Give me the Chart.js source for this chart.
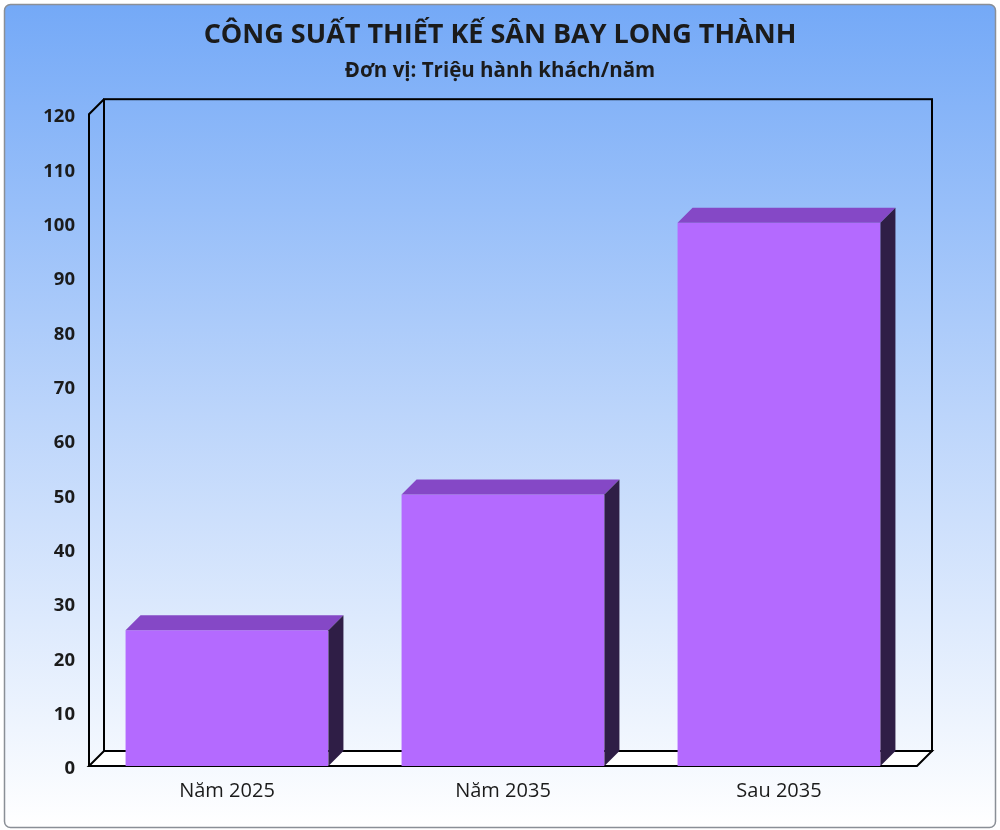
<!DOCTYPE html>
<html>
<head>
<meta charset="utf-8">
<script src="https://cdn.jsdelivr.net/npm/chart.js@4/dist/chart.umd.min.js"></script>
<style>
  html, body { margin: 0; padding: 0; background: #fff; }
  #wrap { width: 1000px; height: 830px; }
</style>
</head>
<body>
<div id="wrap"><canvas id="barChart"></canvas></div>
<script>
var categories = ["Năm 2025", "Năm 2035", "Sau 2035"];
var capacity = [25, 50, 100];
var yTicks = [0, 10, 20, 30, 40, 50, 60, 70, 80, 90, 100, 110, 120];

var DEPTH = 15;

// background, 3d frame and bar faces
var box3d = {
  id: 'box3d',
  beforeDraw: function(chart) {
    var c = chart.ctx;
    var w = chart.width, h = chart.height;
    c.save();
    c.fillStyle = '#fff';
    c.fillRect(0, 0, w, h);
    var g = c.createLinearGradient(0, 4, 0, h - 2);
    g.addColorStop(0, '#74a9f7');
    g.addColorStop(0.5, '#bcd5fb');
    g.addColorStop(1, '#ffffff');
    c.beginPath();
    c.roundRect(4.5, 4.5, w - 9, h - 7, 6);
    c.fillStyle = g;
    c.fill();
    c.lineWidth = 1.5;
    c.strokeStyle = '#8a8f96';
    c.stroke();
    c.restore();
  },
  beforeDatasetsDraw: function(chart) {
    var c = chart.ctx;
    var a = chart.chartArea;
    var d = DEPTH;
    c.save();
    c.lineWidth = 2;
    c.strokeStyle = '#000';
    c.lineJoin = 'miter';
    // floor
    c.beginPath();
    c.moveTo(a.left, a.bottom);
    c.lineTo(a.right, a.bottom);
    c.lineTo(a.right + d, a.bottom - d);
    c.lineTo(a.left + d, a.bottom - d);
    c.closePath();
    c.fillStyle = '#fff';
    c.fill();
    c.stroke();
    // back wall
    c.strokeRect(a.left + d, a.top - d, a.right - a.left, a.bottom - a.top);
    // left wall
    c.beginPath();
    c.moveTo(a.left + d, a.top - d);
    c.lineTo(a.left, a.top);
    c.lineTo(a.left, a.bottom);
    c.stroke();
    c.restore();
  },
  afterDatasetsDraw: function(chart) {
    var c = chart.ctx;
    var d = DEPTH;
    var meta = chart.getDatasetMeta(0);
    c.save();
    meta.data.forEach(function(bar) {
      var p = bar.getProps(['x', 'y', 'base', 'width'], true);
      var l = p.x - p.width / 2, r = p.x + p.width / 2;
      c.beginPath();
      c.moveTo(l, p.y);
      c.lineTo(l + d, p.y - d);
      c.lineTo(r + d, p.y - d);
      c.lineTo(r, p.y);
      c.closePath();
      c.fillStyle = '#8548c6';
      c.fill();
      c.beginPath();
      c.moveTo(r, p.y);
      c.lineTo(r + d, p.y - d);
      c.lineTo(r + d, p.base - d);
      c.lineTo(r, p.base);
      c.closePath();
      c.fillStyle = '#2f1e46';
      c.fill();
    });
    c.restore();
  }
};

var ctx = document.getElementById("barChart").getContext('2d');
var myChart = new Chart(ctx, {
  type: 'bar',
  data: {
    labels: categories,
    datasets: [{
      data: capacity,
      backgroundColor: '#b46aff',
      borderWidth: 0,
      categoryPercentage: 1,
      barPercentage: 0.735
    }]
  },
  options: {
    responsive: true,
    maintainAspectRatio: false,
    animation: false,
    layout: { padding: 0 },
    plugins: {
      legend: { display: false },
      tooltip: { enabled: false },
      title: {
        display: true,
        text: 'CÔNG SUẤT THIẾT KẾ SÂN BAY LONG THÀNH',
        color: '#1b1b1b',
        font: { family: 'Open Sans', size: 27, weight: 'bold', lineHeight: 1.2 },
        padding: { top: 19.5, bottom: 0 }
      },
      subtitle: {
        display: true,
        text: 'Đơn vị: Triệu hành khách/năm',
        color: '#1b1b1b',
        font: { family: 'Open Sans', size: 20.5, weight: 'bold', lineHeight: 1.2 },
        padding: { top: 6.5, bottom: 31.2 }
      }
    },
    scales: {
      x: {
        grid: { display: false, drawTicks: false },
        border: { display: false },
        ticks: {
          color: '#1b1b1b',
          padding: 13,
          font: { family: 'Open Sans', size: 20 }
        },
        afterFit: function(scale) { scale.height = 64; }
      },
      y: {
        min: 0,
        max: 120,
        grid: { display: false, drawTicks: false },
        border: { display: false },
        afterBuildTicks: function(scale) {
          scale.ticks = yTicks.map(function(v) { return { value: v }; });
        },
        ticks: {
          color: '#1b1b1b',
          padding: 14,
          labelOffset: 3,
          font: { family: 'Open Sans', size: 18.5, weight: 'bold' }
        },
        afterFit: function(scale) { scale.width = 89; }
      },
      yRight: {
        position: 'right',
        grid: { display: false, drawTicks: false },
        border: { display: false },
        ticks: { display: false },
        afterFit: function(scale) { scale.width = 83; }
      }
    }
  },
  plugins: [box3d]
});
</script>
</body>
</html>
